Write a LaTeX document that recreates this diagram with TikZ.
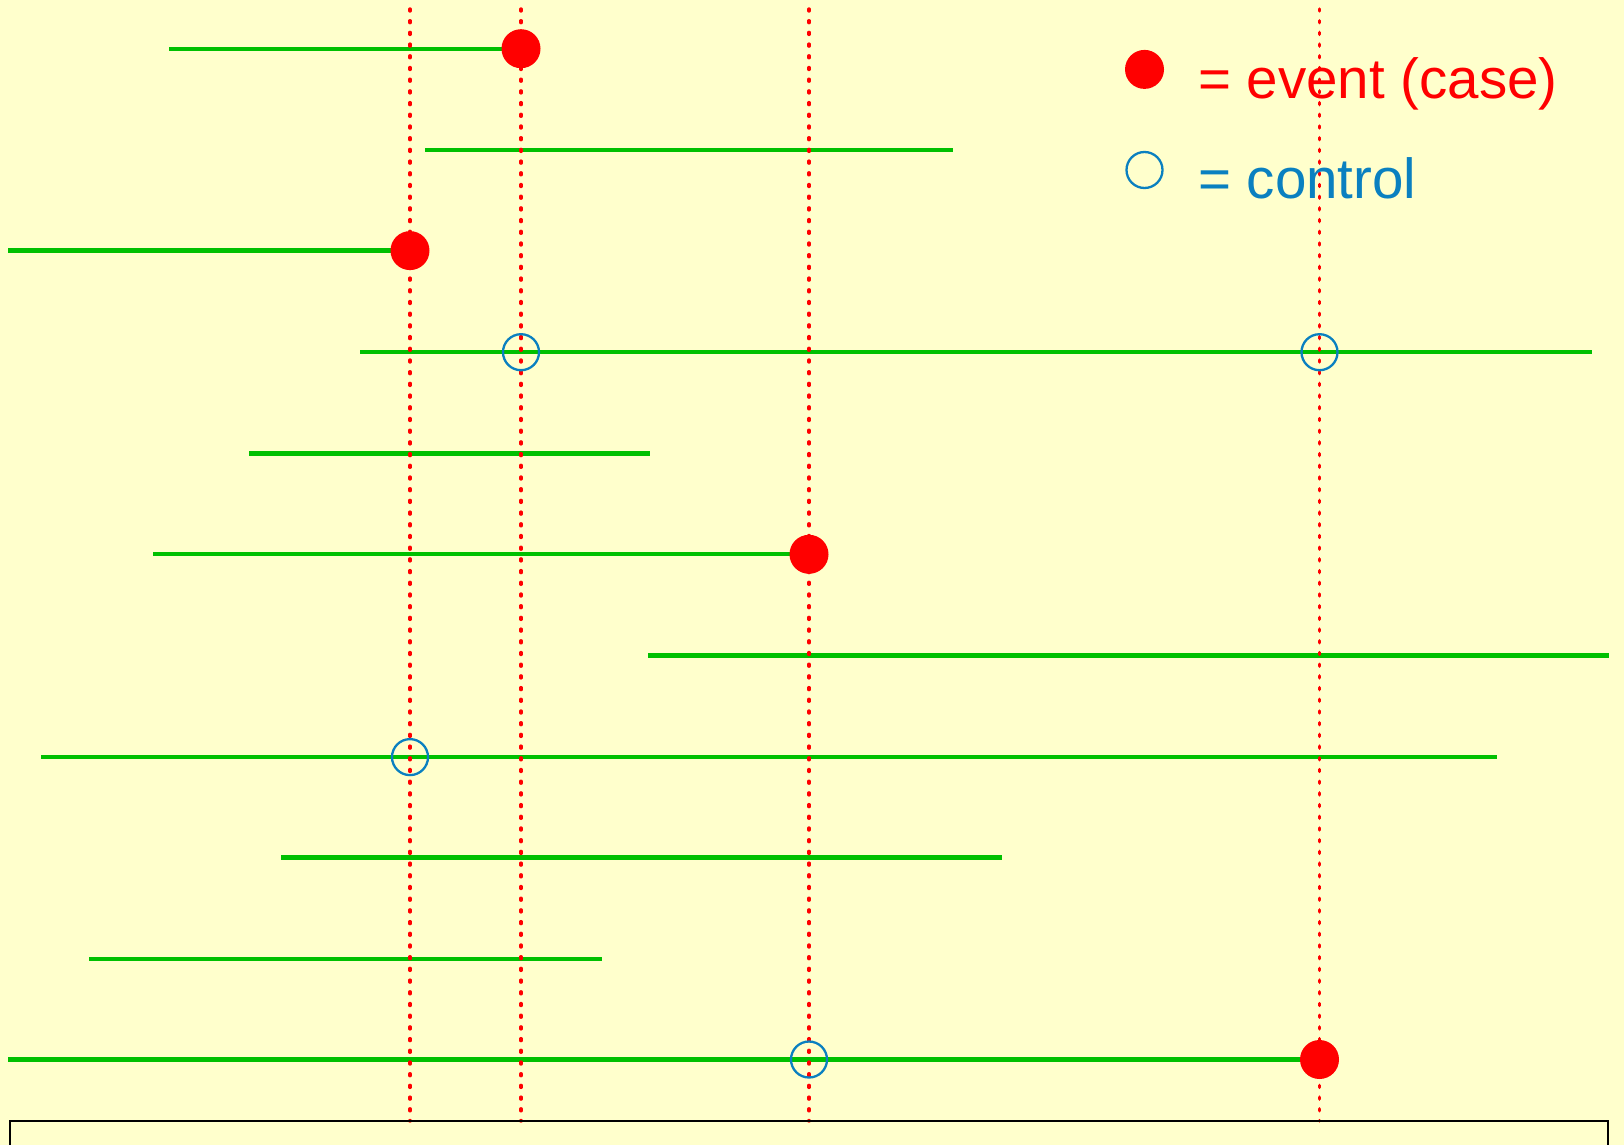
\documentclass[tikz,border=0pt]{standalone}
\usepackage{fontspec}
\setmainfont{Liberation Sans}
\definecolor{bgyellow}{RGB}{255,255,204}
\definecolor{fugreen}{RGB}{0,192,0}
\definecolor{ctlblue}{RGB}{10,128,192}
\begin{document}
\begin{tikzpicture}[x=1pt,y=-1pt,
  fu/.style={draw=fugreen,line width=4.3pt},
  vdot/.style={draw=red,line width=3.4pt,line cap=round,dash pattern=on 2pt off 9.7pt},
  evt/.style={circle,fill=red,inner sep=0pt,minimum size=39pt},
  ctl/.style={circle,draw=ctlblue,line width=2.3pt,inner sep=0pt,minimum size=36pt},
  legtext/.style={anchor=base west,inner sep=0pt,font=\fontsize{56.5}{60}\selectfont}]
\fill[bgyellow] (0,0) rectangle (1624,1145);
\useasboundingbox (0,0) rectangle (1624,1145);
% event times
\def\va{410}\def\vb{521}\def\vc{809}\def\vd{1319.5}
% follow-up lines
\coordinate (s1) at (169,48.7);   \coordinate (t1) at (\vb,48.7);
\coordinate (s2) at (425,150.2);  \coordinate (t2) at (953,150.2);
\coordinate (s3) at (8,250.6);    \coordinate (t3) at (\va,250.6);
\coordinate (s4) at (360,352.2);  \coordinate (t4) at (1592,352.2);
\coordinate (s5) at (249,453.6);  \coordinate (t5) at (650,453.6);
\coordinate (s6) at (153,554.3);  \coordinate (t6) at (\vc,554.3);
\coordinate (s7) at (648,655.6);  \coordinate (t7) at (1609,655.6);
\coordinate (s8) at (41,757.1);   \coordinate (t8) at (1497,757.1);
\coordinate (s9) at (281,857.6);  \coordinate (t9) at (1002,857.6);
\coordinate (s10) at (89,959.1);  \coordinate (t10) at (602,959.1);
\coordinate (s11) at (8,1059.5);  \coordinate (t11) at (\vd,1059.5);
\foreach \i in {1,...,11} {\draw[fu] (s\i) -- (t\i);}
% vertical dotted lines at event times
\coordinate (ta) at (\va,9); \coordinate (ba) at (\va,1121);
\coordinate (tb) at (\vb,9); \coordinate (bb) at (\vb,1121);
\coordinate (tc) at (\vc,9); \coordinate (bc) at (\vc,1121);
\coordinate (td) at (\vd,9); \coordinate (bd) at (\vd,1121);
\draw[vdot] (ta) -- (ba);
\draw[vdot] (tb) -- (bb);
\draw[vdot] (tc) -- (bc);
\draw[vdot] (td) -- (bd);
% events
\node[evt] (e1) at (t1) {};
\node[evt] (e3) at (t3) {};
\node[evt] (e6) at (t6) {};
\node[evt] (e11) at (t11) {};
% controls
\node[ctl] (c4a) at (\vb,352.2) {};
\node[ctl] (c4b) at (\vd,352.2) {};
\node[ctl] (c8) at (\va,757.1) {};
\node[ctl] (c11) at (\vc,1059.5) {};
% legend
\node[evt] (legevt) at (1144.5,69.4) {};
\node[ctl] (legctl) at (1144.5,170) {};
\node[legtext,text=red] (legevtt) at (1198,98.5) {= event (case)};
\node[legtext,text=ctlblue] (legctlt) at (1198,198.8) {= control};
% axis box
\draw[line width=2pt] (10.4,1150) -- (10.4,1121) -- (1607.6,1121) -- (1607.6,1150);
\end{tikzpicture}
\end{document}
